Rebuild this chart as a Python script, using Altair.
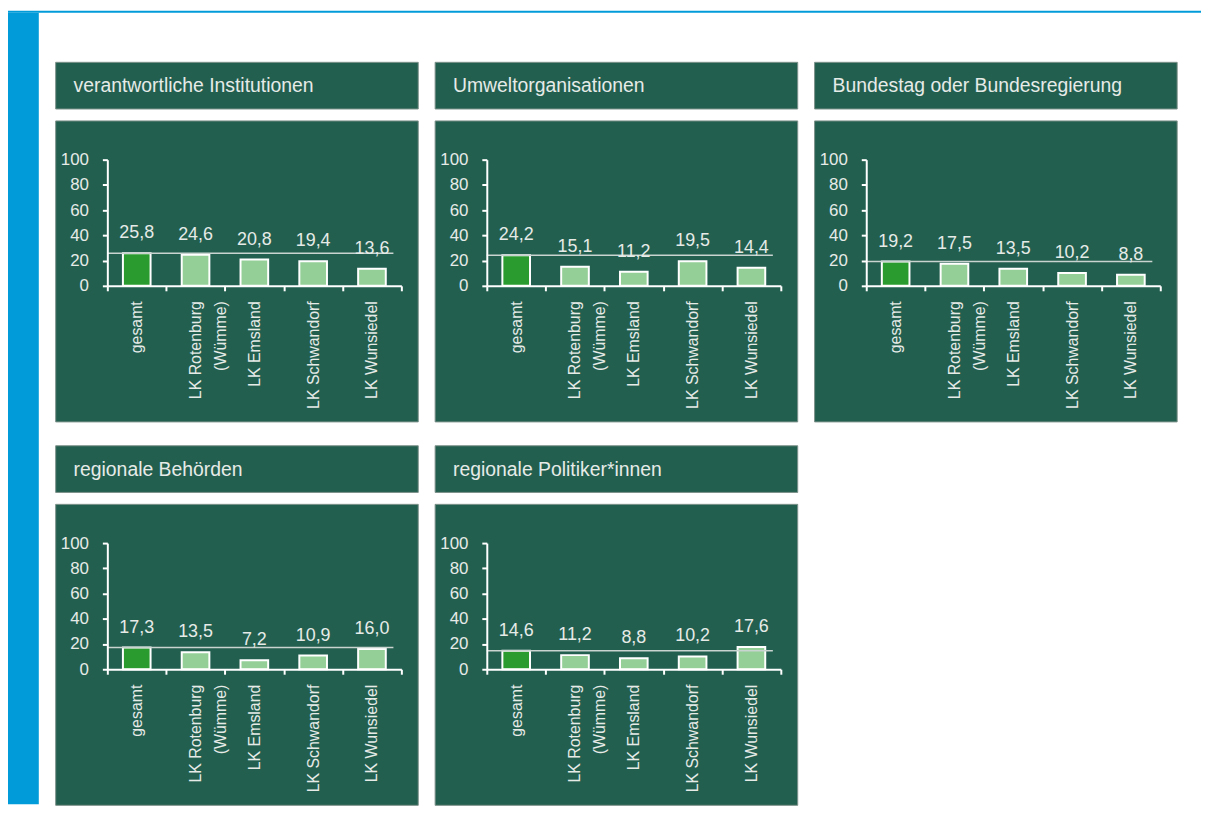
import altair as alt
import pandas as pd

# ---------------- data ----------------
categories = ["gesamt", "LK Rotenburg (Wümme)", "LK Emsland", "LK Schwandorf", "LK Wunsiedel"]
kinds = ["gesamt", "region", "region", "region", "region"]
titles = [
    "verantwortliche Institutionen",
    "Umweltorganisationen",
    "Bundestag oder Bundesregierung",
    "regionale Behörden",
    "regionale Politiker*innen",
]
v_institutionen = [25.8, 24.6, 20.8, 19.4, 13.6]
v_umwelt = [24.2, 15.1, 11.2, 19.5, 14.4]
v_bundestag = [19.2, 17.5, 13.5, 10.2, 8.8]
v_behoerden = [17.3, 13.5, 7.2, 10.9, 16.0]
v_politiker = [14.6, 11.2, 8.8, 10.2, 17.6]
y_ticks = [0, 20, 40, 60, 80, 100]

# ---------------- style ----------------
BG = "#235f4f"
EDGE = "#7d918a"
TXT = "#e6ebe8"
BLUE = "#009bd8"
C_GES = "#2a9b2f"
C_REG = "#93cf97"
RULE = "#c9d3cf"
FONT = "Liberation Sans, Arial, sans-serif"
W, H = 296, 127

one = pd.DataFrame({"k": [0]})

X_AXIS = alt.Axis(
    zindex=1,
    labelAngle=270, labelFontSize=16, labelPadding=10, labelLineHeight=25,
    tickBand="extent", labelOverlap=False, labelLimit=300,
    labelExpr="indexof(datum.label, ' (') > 0 ? [slice(datum.label, 0, indexof(datum.label, ' (')), slice(datum.label, indexof(datum.label, ' (') + 1)] : datum.label",
)
Y_AXIS = alt.Axis(zindex=1, values=y_ticks, labelFontSize=17, labelPadding=14, labelOverlap=False)
Y_SCALE = alt.Scale(domain=[0, 100], nice=False)
X_SCALE = alt.Scale(paddingInner=0, paddingOuter=0)


def panel(title, values):
    df = pd.DataFrame({
        "cat": categories,
        "val": values,
        "kind": kinds,
        "lab": [f"{v:.1f}".replace(".", ",") for v in values],
    })
    ref = pd.DataFrame({"ref": [values[0]]})
    tdf = pd.DataFrame({"title": [title]})

    box = alt.Chart(one).mark_rect(fill=BG, stroke=EDGE, strokeWidth=1).encode(
        x=alt.value(-52), x2=alt.value(W + 17), y=alt.value(-39), y2=alt.value(H + 137)
    )
    tbox = alt.Chart(one).mark_rect(fill=BG, stroke=EDGE, strokeWidth=1).encode(
        x=alt.value(-52), x2=alt.value(W + 17), y=alt.value(-98), y2=alt.value(-51)
    )
    ttext = alt.Chart(tdf).mark_text(
        align="left", baseline="middle", font=FONT, fontSize=19.5, color=TXT
    ).encode(x=alt.value(-34), y=alt.value(-74), text="title:N")

    xenc = alt.X("cat:N", sort=categories, title=None, scale=X_SCALE, axis=X_AXIS)
    bars = alt.Chart(df).mark_bar(
        width=alt.RelativeBandSize(0.47), stroke="white", strokeWidth=2
    ).encode(
        x=xenc,
        y=alt.Y("val:Q", title=None, scale=Y_SCALE, axis=Y_AXIS),
        color=alt.Color("kind:N", scale=alt.Scale(domain=["gesamt", "region"], range=[C_GES, C_REG]), legend=None),
    )
    rule = alt.Chart(ref).mark_rule(color=RULE, strokeWidth=1.5).encode(
        x=alt.value(0), x2=alt.value(W - 8),
        y=alt.Y("ref:Q", title=None, scale=Y_SCALE, axis=Y_AXIS),
    )
    labels = alt.Chart(df).mark_text(
        baseline="alphabetic", dy=-15, font=FONT, fontSize=18, color=TXT
    ).encode(
        x=xenc,
        y=alt.Y("val:Q", title=None, scale=Y_SCALE, axis=Y_AXIS),
        text="lab:N",
    )
    return alt.layer(box, tbox, ttext, bars, rule, labels).properties(width=W, height=H)


p1 = panel(titles[0], v_institutionen)
p2 = panel(titles[1], v_umwelt)
p3 = panel(titles[2], v_bundestag)
p4 = panel(titles[3], v_behoerden)
p5 = panel(titles[4], v_politiker)

top_line = alt.Chart(one).mark_rect(color=BLUE).encode(
    x=alt.value(0), x2=alt.value(1201), y=alt.value(0), y2=alt.value(2)
).properties(width=1201, height=2)

blue_bar = alt.Chart(one).mark_rect(color=BLUE).encode(
    x=alt.value(0), x2=alt.value(31), y=alt.value(0), y2=alt.value(797)
).properties(width=31, height=797)

spacer = alt.Chart(one).mark_rect(opacity=0).encode(
    x=alt.value(0), x2=alt.value(10), y=alt.value(0), y2=alt.value(27)
).properties(width=10, height=27)

row1 = alt.hconcat(p1, p2, p3, spacing=15)
row2 = alt.hconcat(p4, p5, spacing=15)
grid = alt.vconcat(spacer, row1, row2, spacing=22)
body = alt.hconcat(blue_bar, grid, spacing=16)

chart = alt.vconcat(top_line, body, spacing=0).properties(
    padding={"left": 0, "top": 0, "right": 0, "bottom": 0},
    background="white",
).configure_view(stroke=None).configure_axis(
    domainColor="white", domainWidth=2, tickColor="white", tickWidth=2, tickSize=5,
    labelColor=TXT, labelFont=FONT, grid=False, zindex=1,
)

chart.save("out.html", embed_options={"renderer": "svg", "actions": False})
